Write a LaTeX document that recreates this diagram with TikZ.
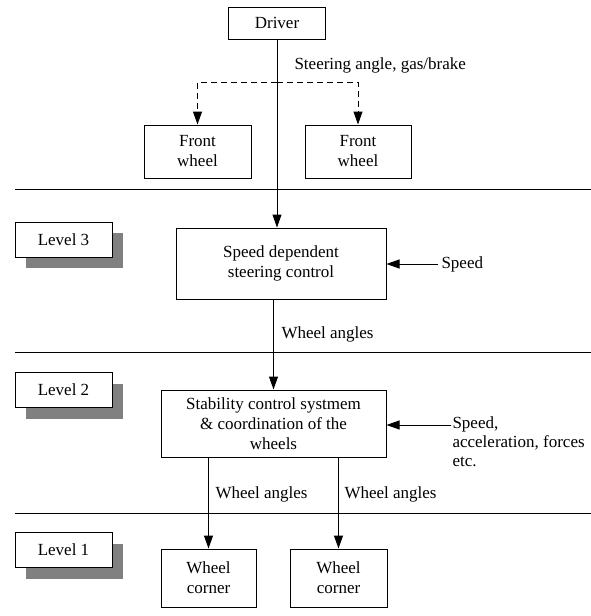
\documentclass[tikz,border=0pt]{standalone}
\usepackage{fontspec}
\setmainfont{Liberation Serif}
\usetikzlibrary{arrows.meta,positioning,shadows}

\begin{document}
\begin{tikzpicture}[
    x=1pt, y=-1pt,
    font=\fontsize{17}{20}\selectfont,
    block/.style={draw, line width=1pt, align=center, inner sep=2pt},
    levelbox/.style={block, fill=white, minimum width=97pt, minimum height=35pt,
      drop shadow={shadow xshift=11pt, shadow yshift=-11pt, fill=gray, opacity=1}},
    divider/.style={line width=1pt},
    flow/.style={->, line width=1pt},
    >={Triangle[length=13pt,width=9pt]},
]
\useasboundingbox (0,0) rectangle (591,616);

% Driver and the front wheels
\node[block, minimum width=97pt, minimum height=32pt] (driver) at (277,23) {Driver};
\node[block, minimum width=107pt, minimum height=53pt] (fwl) at (197.5,151.5) {Front\\wheel};
\node[block, minimum width=106pt, minimum height=53pt] (fwr) at (358,151.5) {Front\\wheel};
\coordinate (split) at (277,82);
\draw[flow, dash pattern=on 6pt off 4pt] (split) -| (fwl.north);
\draw[flow, dash pattern=on 6pt off 4pt] (split) -| (fwr.north);
\node[anchor=west] (steer) at (291,65) {Steering angle, gas/brake};

% Level dividers
\coordinate (d3l) at (15,189);  \coordinate (d3r) at (591,189);
\coordinate (d2l) at (15,352);  \coordinate (d2r) at (591,352);
\coordinate (d1l) at (15,513);  \coordinate (d1r) at (591,513);
\draw[divider] (d3l) -- (d3r);
\draw[divider] (d2l) -- (d2r);
\draw[divider] (d1l) -- (d1r);

% Level 3
\node[levelbox] (level3) at (63.5,239.5) {Level 3};
\node[block, minimum width=210pt, minimum height=71pt] (speeddep) at (281,263.5) {Speed dependent\\steering control};
\draw[flow] (driver.south) -- (driver.south |- speeddep.north);
\node[anchor=west] (speed) at (438,264) {Speed};
\draw[flow] (speed.west) -- (speed.west -| speeddep.east);

% Level 2
\node[levelbox] (level2) at (63.5,390) {Level 2};
\node[block, minimum width=225pt, minimum height=67pt] (stab) at (273.5,423.5) {Stability control systmem\\\& coordination of the\\wheels};
\draw[flow] (stab.north |- speeddep.south) -- (stab.north);
\node[anchor=west] (wa3) at (278,334) {Wheel angles};
\node[anchor=north west, align=left, font=\fontsize{17}{19}\selectfont] (accin) at (449,413) {Speed,\\acceleration, forces\\etc.};
\coordinate (accfrom) at (451,425);
\draw[flow] (accfrom) -- (accfrom -| stab.east);

% Level 1
\node[levelbox] (level1) at (63.5,550) {Level 1};
\node[block, minimum width=95pt, minimum height=58pt] (wcl) at (208.5,578) {Wheel\\corner};
\node[block, minimum width=97pt, minimum height=58pt] (wcr) at (338.5,578) {Wheel\\corner};
\draw[flow] (stab.south -| wcl.north) -- (wcl.north);
\draw[flow] (stab.south -| wcr.north) -- (wcr.north);
\node[anchor=west] (wa1) at (212,494) {Wheel angles};
\node[anchor=west] (wa2) at (341,494) {Wheel angles};

\end{tikzpicture}
\end{document}
